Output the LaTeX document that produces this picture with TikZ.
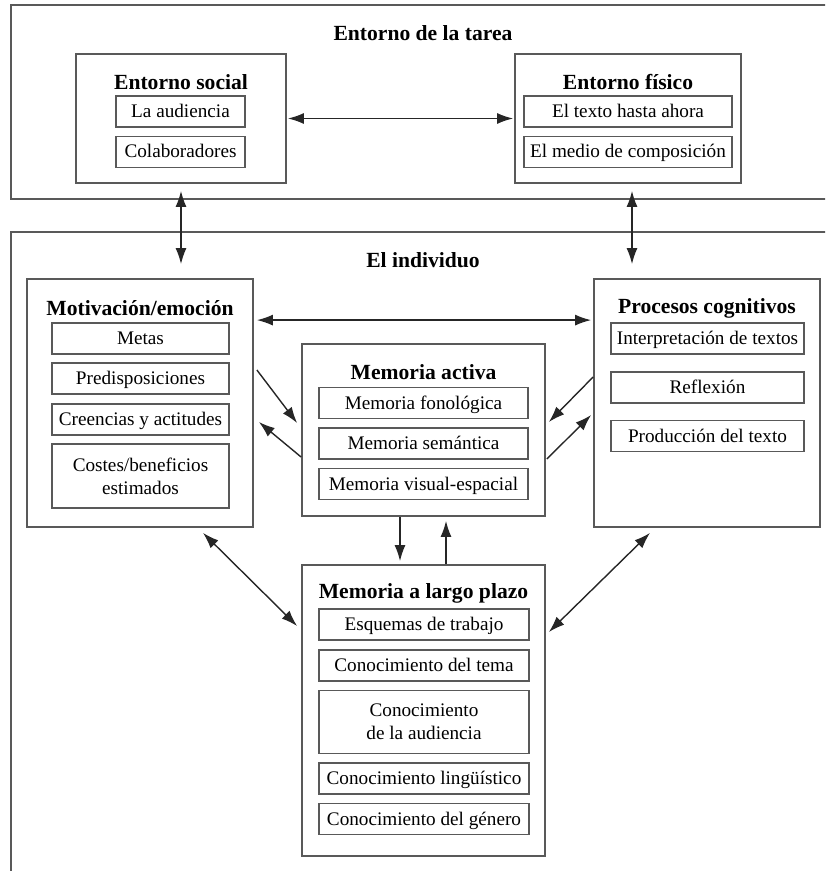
\documentclass[tikz,border=0pt]{standalone}
\usepackage{fontspec}
\setmainfont{Liberation Serif}
\usetikzlibrary{arrows.meta}

\begin{document}
\begin{tikzpicture}[x=0.5pt,y=-0.5pt,>={Latex[length=8pt,width=5.5pt]},
		frame/.style={draw=black!65,line width=0.9pt},
		panel/.style 2 args={frame,minimum width=#1,minimum height=#2,inner sep=0pt},
		item/.style={frame,minimum width=#1,minimum height=15.5pt,inner sep=0pt,text height=7.5pt,text depth=1.5pt,font=\fontsize{9.6}{11}\selectfont},
		item2/.style={frame,minimum width=#1,minimum height=31.5pt,inner sep=0pt,align=center,font=\fontsize{9.6}{11.5}\selectfont},
		head/.style={font=\fontsize{10.8}{12}\selectfont\bfseries},
		link/.style={draw=black!85,line width=0.7pt}]
	\useasboundingbox (0,0) rectangle (825,871);
	\clip (0,0) rectangle (825,871);
	% Entorno de la tarea
	\draw[frame] (840,5) -| (11,199) -- (840,199);
	\node[head] (tarea) at (423,33) {Entorno de la tarea};
	\node[panel={105pt}{64.5pt}] (social) at (181,118.5) {};
	\node[head] (socialT) at (181,82) {Entorno social};
	\node[item=64.5pt] (audiencia) at (180.5,111.5) {La audiencia};
	\node[item=64.5pt] (colab) at (180.5,152) {Colaboradores};
	\node[panel={113pt}{64.5pt}] (fisico) at (628,118.5) {};
	\node[head] (fisicoT) at (628,82) {Entorno físico};
	\node[item=104pt] (texto) at (628,111.5) {El texto hasta ahora};
	\node[item=104pt] (medio) at (628,152) {El medio de composición};
	% El individuo
	\draw[frame] (840,232) -| (11,890);
	\node[head] (individuo) at (423,260) {El individuo};
	\node[panel={113pt}{124pt}] (motiv) at (140,403) {};
	\node[head] (motivT) at (140,308) {Motivación/emoción};
	\node[item=88.5pt] (metas) at (140.5,338.5) {Metas};
	\node[item=88.5pt] (predis) at (140.5,378.5) {Predisposiciones};
	\node[item=88.5pt] (creencias) at (140.5,419.5) {Creencias y actitudes};
	\node[item2=88.5pt,minimum height=32pt] (costes) at (140.5,476) {Costes/beneficios\\estimados};
	\node[panel={113pt}{124pt}] (procesos) at (707,403) {};
	\node[head] (procesosT) at (707,308) {Procesos cognitivos};
	\node[item=96.5pt] (interp) at (707.5,338.5) {Interpretación de textos};
	\node[item=96.5pt] (reflex) at (707.5,387.5) {Reflexión};
	\node[item=96.5pt] (produc) at (707.5,436) {Producción del texto};
	\node[panel={121.5pt}{86pt}] (activa) at (423.5,430) {};
	\node[head] (activaT) at (423.5,372) {Memoria activa};
	\node[item=104.5pt] (fonol) at (423.5,403) {Memoria fonológica};
	\node[item=104.5pt] (seman) at (423.5,443.5) {Memoria semántica};
	\node[item=104.5pt] (visual) at (423.5,484) {Memoria visual-espacial};
	\node[panel={121.5pt}{145.5pt}] (largo) at (423.5,710.5) {};
	\node[head] (largoT) at (423.5,593) {Memoria a largo plazo};
	\node[item=105pt] (esquemas) at (424,624.5) {Esquemas de trabajo};
	\node[item=105pt] (tema) at (424,665.5) {Conocimiento del tema};
	\node[item2=105pt] (audien) at (424,722) {Conocimiento\\de la audiencia};
	\node[item=105pt] (lingu) at (424,778.5) {Conocimiento lingüístico};
	\node[item=105pt] (genero) at (424,819) {Conocimiento del género};
	% flechas
	\draw[link,<->,shorten <=0.5pt,shorten >=0.5pt] (social) -- (fisico);
	\draw[link,<->,shorten <=3.5pt,shorten >=7pt] (social.south) -- (social.south |- motiv.north);
	\draw[link,<->,shorten <=3.5pt,shorten >=7pt] ([xshift=2pt]fisico.south) -- ([xshift=2pt]fisico.south |- procesos.north);
	\draw[link,<->,shorten <=1.5pt,shorten >=1pt] ([yshift=-21pt]motiv.north east) -- ([yshift=-21pt]procesos.north west);
	\draw[link,->] ([xshift=1.5pt,yshift=16.5pt]motiv.east) -- ([xshift=-2pt,yshift=3.5pt]activa.west);
	\draw[link,->] ([yshift=-13.5pt]activa.west) -- ([xshift=2.5pt,yshift=-9.5pt]motiv.east);
	\draw[link,->] ([yshift=13pt]procesos.west) -- ([xshift=1.5pt,yshift=4pt]activa.east);
	\draw[link,->] ([xshift=0.5pt,yshift=-14.5pt]activa.east) -- ([xshift=-1pt,yshift=-6pt]procesos.west);
	\draw[link,->,shorten >=1.5pt] ([xshift=-11.75pt]activa.south) -- ([xshift=-11.75pt]activa.south |- largo.north);
	\draw[link,->,shorten >=2pt] ([xshift=11.25pt]largo.north) -- ([xshift=11.25pt]largo.north |- activa.south);
	\draw[link,<->] ([xshift=31.5pt,yshift=-2.5pt]motiv.south) -- ([xshift=-2pt,yshift=42.25pt]largo.west);
	\draw[link,<->] ([xshift=-28.5pt,yshift=-2.5pt]procesos.south) -- ([xshift=1.5pt,yshift=39.25pt]largo.east);
\end{tikzpicture}
\end{document}
